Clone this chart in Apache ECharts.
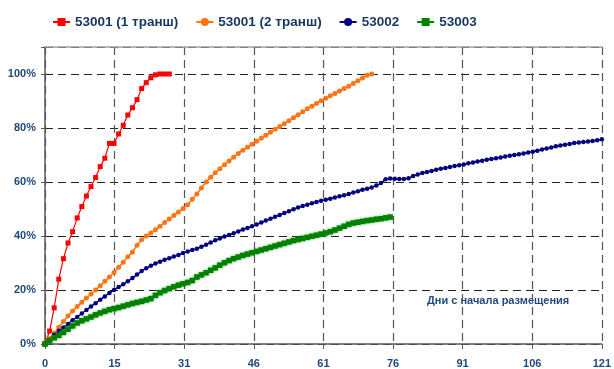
<!DOCTYPE html>
<html>
<head>
<meta charset="utf-8">
<script src="https://cdn.jsdelivr.net/npm/echarts@6/dist/echarts.min.js"></script>
<style>
html,body{margin:0;padding:0;background:#fff;}
#chart{width:614px;height:369px;}
</style>
</head>
<body>
<div id="chart"></div>
<script>
// ---- Data ----
const seriesNames = ["53001 (1 транш)", "53001 (2 транш)", "53002", "53003"];
const xTickLabels = ["0", "15", "31", "46", "61", "76", "91", "106", "121"];
const yTickValues = [0, 20, 40, 60, 80, 100];
const annotationText = "Дни с начала размещения";

// days since placement start (one point per day)
const days1 = [0,1,2,3,4,5,6,7,8,9,10,11,12,13,14,15,16,17,18,19,20,21,22,23,24,25,26,27];
const values1 = [0,4.8,13.4,24,31.6,37.4,41.6,46.7,50.9,54.8,58.3,61.7,65.7,68.8,74.3,74.3,77.8,81,84.8,87.5,90.5,94.6,96.8,98.6,99.7,100,100,100];

const values2 = [0,2.0,4.0,6.2,8.3,10.4,12.2,13.9,15.5,17.0,18.5,20.0,21.6,23.2,24.8,26.5,28.4,30.3,32.3,34.0,36.6,38.6,40.0,41.1,42.3,43.6,45.0,46.3,47.6,48.9,50.2,51.6,53.6,55.6,57.8,60.0,61.8,63.4,64.9,66.4,67.8,69.2,70.6,71.8,72.9,74.0,75.1,76.2,77.3,78.4,79.5,80.6,81.6,82.7,83.8,84.9,86.0,87.1,88.1,89.1,90.1,91.0,91.9,92.8,93.7,94.6,95.5,96.5,97.5,98.5,99.5,100];

const values3 = [0,1.6,3.4,4.9,6.1,7.4,8.8,10.0,11.3,12.6,13.9,15.1,16.4,17.6,18.9,20.0,21.1,22.1,23.2,24.4,25.7,27.0,28.1,29.0,29.8,30.5,31.2,31.8,32.4,33.0,33.7,34.3,34.8,35.3,36.0,36.8,37.6,38.4,39.1,39.8,40.4,41.0,41.7,42.4,43.0,43.6,44.3,45.0,45.7,46.4,47.1,47.8,48.5,49.2,49.9,50.6,51.1,51.6,52.1,52.6,53.1,53.4,53.8,54.3,54.7,55.1,55.6,56.1,56.6,57.1,57.5,58.0,58.7,59.6,61.0,61.3,61.2,61.1,61.1,61.4,62.2,62.8,63.3,63.7,64.1,64.5,64.9,65.2,65.6,65.9,66.2,66.5,66.9,67.2,67.6,67.9,68.2,68.5,68.8,69.1,69.4,69.7,70.0,70.3,70.6,70.9,71.2,71.6,72.0,72.4,72.8,73.2,73.5,73.8,74.1,74.4,74.6,74.8,75.0,75.2,75.5,75.8];

const values4 = [0,1.2,2.3,3.2,4.3,5.5,6.7,7.8,8.6,9.3,10.0,10.8,11.5,12.1,12.7,13.1,13.5,14.0,14.5,15.0,15.4,15.8,16.3,16.8,18.0,19.0,19.8,20.5,21.2,21.8,22.3,22.8,23.5,24.8,25.6,26.4,27.3,28.2,29.2,30.1,30.9,31.6,32.2,32.8,33.3,33.8,34.3,34.8,35.3,35.8,36.3,36.8,37.3,37.8,38.3,38.7,39.1,39.5,39.9,40.3,40.7,41.1,41.6,42.2,42.9,43.6,44.3,44.8,45.1,45.4,45.7,45.9,46.2,46.4,46.7,47.0];

// ---- helpers ----
function pairs(vals, daysArr) {
  return vals.map((v, i) => [daysArr ? daysArr[i] : i, v]);
}
const X_MAX = 121;
const X_INT = X_MAX / (xTickLabels.length - 1);

const labelColor = "#1F497D";
const fontFam = "'Liberation Sans', Arial, sans-serif";

const chart = echarts.init(document.getElementById('chart'), null, {renderer: 'canvas'});

const option = {
  animation: false,
  backgroundColor: '#ffffff',
  textStyle: {fontFamily: fontFam},
  legend: {
    left: 47,
    top: 10,
    itemWidth: 17,
    itemHeight: 10,
    itemGap: 17,
    textStyle: {color: '#17375E', fontWeight: 'bold', fontSize: 13.5, fontFamily: fontFam},
    data: seriesNames
  },
  grid: {left: 45, right: 9, top: 47, bottom: 25, containLabel: false},
  xAxis: [{
    type: 'value',
    min: 0, max: X_MAX, interval: X_INT,
    axisLine: {show: true, lineStyle: {color: '#5a5a5a', width: 1.5}},
    axisTick: {show: true, length: 5, lineStyle: {color: '#5a5a5a', width: 1}},
    axisLabel: {
      color: labelColor, fontWeight: 'bold', fontSize: 11, margin: 14,
      formatter: v => xTickLabels[Math.round(v / X_INT)] || ''
    },
    splitLine: {show: true, lineStyle: {color: '#555', type: [8, 5], width: 1.2}}
  }, {
    type: 'value', position: 'top',
    min: 0, max: X_MAX,
    axisLine: {show: true, onZero: false, lineStyle: {color: '#a0a0a0', width: 1.5}},
    axisTick: {show: false}, axisLabel: {show: false}, splitLine: {show: false}
  }],
  yAxis: {
    type: 'value',
    min: 0, max: 110, interval: 20,
    axisLine: {show: true, lineStyle: {color: '#5a5a5a', width: 1.5}},
    axisTick: {show: true, length: 4, lineStyle: {color: '#5a5a5a'}},
    axisLabel: {
      color: labelColor, fontWeight: 'bold', fontSize: 11, margin: 9,
      formatter: v => (yTickValues.indexOf(Math.round(v)) >= 0 ? Math.round(v) + '%' : '')
    },
    splitLine: {show: true, lineStyle: {color: '#222', type: [8, 5], width: 1}}
  },
  graphic: [{
    type: 'text', left: 427, top: 295,
    style: {text: annotationText, fill: labelColor, font: "bold 11px 'Liberation Sans', Arial, sans-serif"}
  }],
  series: [
    {
      name: seriesNames[0], type: 'line', data: pairs(values1, days1),
      symbol: 'rect', symbolSize: 5, color: '#FF0000',
      lineStyle: {width: 1.2, color: '#FF0000'}, itemStyle: {color: '#FF0000'}
    },
    {
      name: seriesNames[1], type: 'line', data: pairs(values2),
      symbol: 'circle', symbolSize: 5, color: '#FF7415',
      lineStyle: {width: 1.5, color: '#FF7415'}, itemStyle: {color: '#FF7415'}
    },
    {
      name: seriesNames[2], type: 'line', data: pairs(values3),
      symbol: 'circle', symbolSize: 4.5, color: '#000080',
      lineStyle: {width: 1.5, color: '#000080'}, itemStyle: {color: '#000080'}
    },
    {
      name: seriesNames[3], type: 'line', data: pairs(values4),
      symbol: 'rect', symbolSize: 5.5, color: '#008000',
      lineStyle: {width: 2, color: '#008000', shadowColor: 'rgba(0,160,0,0.45)', shadowBlur: 3},
      itemStyle: {color: '#008000', shadowColor: 'rgba(0,160,0,0.45)', shadowBlur: 3}
    }
  ]
};
chart.setOption(option);
</script>
</body>
</html>
